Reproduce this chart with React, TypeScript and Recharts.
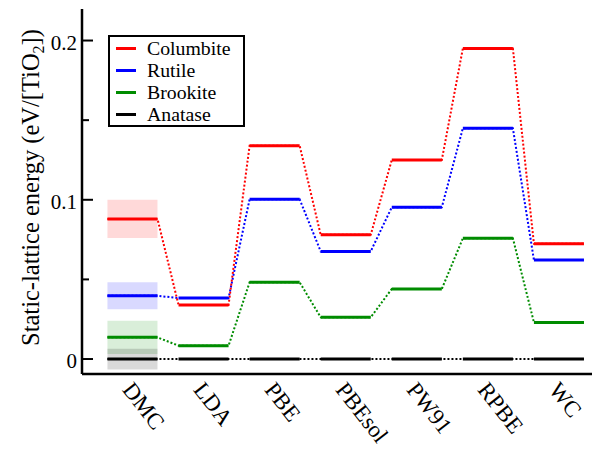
import React from 'react';
import { LineChart, Line, XAxis, YAxis, ReferenceArea, Legend } from 'recharts';

// functionals along the x axis
const categories = ['DMC', 'LDA', 'PBE', 'PBEsol', 'PW91', 'RPBE', 'WC'];

// static-lattice energies relative to anatase (eV / TiO2)
const columbite = [0.088, 0.034, 0.134, 0.078, 0.125, 0.195, 0.0724];
const rutile = [0.0397, 0.0383, 0.1003, 0.0676, 0.0953, 0.1449, 0.0622];
const brookite = [0.0136, 0.0084, 0.0482, 0.0262, 0.044, 0.0758, 0.023];
const anatase = [0, 0, 0, 0, 0, 0, 0];

// DMC error bars (half widths)
const dmcErrors = { columbite: 0.012, rutile: 0.0085, brookite: 0.0104, anatase: 0.0065 };

const yTicks = [0, 0.05, 0.1, 0.15, 0.2];
const yLabels: Record<string, string> = { '0': '0', '0.1': '0.1', '0.2': '0.2' };

const FONT = "'Liberation Serif', 'Times New Roman', serif";
const HALF = 0.352; // half length of a level, in category units
const X_DOMAIN: [number, number] = [-0.71, 6.465];
const Y_DOMAIN: [number, number] = [-0.0094, 0.2198];

const phases = [
    { name: 'Columbite', color: '#ff0000', values: columbite, err: dmcErrors.columbite },
    { name: 'Rutile', color: '#0000ff', values: rutile, err: dmcErrors.rutile },
    { name: 'Brookite', color: '#008c00', values: brookite, err: dmcErrors.brookite },
    { name: 'Anatase', color: '#000000', values: anatase, err: dmcErrors.anatase },
];

// level segments, broken by nulls
const levels = (vals: number[]) =>
    vals.flatMap((v, i) => [
        { x: i - HALF, y: v },
        { x: i + HALF, y: v },
        { x: i + 0.5, y: null },
    ]);

// the whole staircase, drawn dotted underneath
const staircase = (vals: number[]) =>
    vals.flatMap((v, i) => [
        { x: i - HALF, y: v },
        { x: i + HALF, y: v },
    ]);

const YTick = ({ x, y, payload }: any) => {
    const label = yLabels[String(payload.value)];
    const axisX = x + 5;
    return (
        <g>
            <line x1={axisX} x2={axisX + (label ? 11 : 7)} y1={y} y2={y} stroke="#000" strokeWidth={2} />
            {label && (
                <text x={x} y={y + 9} textAnchor="end" fontSize={21} fontFamily={FONT} fill="#000">
                    {label}
                </text>
            )}
        </g>
    );
};

const XTick = ({ x, y, payload }: any) => {
    const ax = x - 11;
    const ay = y + 8;
    return (
        <text x={ax} y={ay} transform={`rotate(52, ${ax}, ${ay})`} fontSize={23} fontFamily={FONT} fill="#000">
            {categories[payload.value]}
        </text>
    );
};

const YLabel = ({ viewBox }: any) => {
    const cx = 39;
    const cy = viewBox.y + viewBox.height / 2 - 4;
    return (
        <text x={cx} y={cy} transform={`rotate(-90, ${cx}, ${cy})`} textAnchor="middle" fontSize={24.5} fontFamily={FONT} fill="#000">
            Static-lattice energy (eV/[TiO<tspan dy={5} fontSize={16}>2</tspan><tspan dy={-5}>])</tspan>
        </text>
    );
};

const LegendBox = () => (
    <div
        style={{
            border: '2px solid #000',
            background: '#fff',
            padding: '0 6px',
            width: 121,
            fontFamily: FONT,
            fontSize: 19.8,
            lineHeight: '22px',
            color: '#000',
        }}
    >
        {phases.map((p) => (
            <div key={p.name} style={{ display: 'flex', alignItems: 'center', height: 22 }}>
                <span style={{ display: 'inline-block', width: 20, height: 3, background: p.color, marginRight: 11 }} />
                <span>{p.name}</span>
            </div>
        ))}
    </div>
);

export default function App() {
    return (
        <div style={{ position: 'absolute', left: 0, top: 0, width: 592, height: 454, overflow: 'hidden', background: '#fff' }}>
            <LineChart width={592} height={454} margin={{ top: 9, right: 0, bottom: 0, left: 0 }}>
                <XAxis
                    xAxisId="top"
                    orientation="top"
                    type="number"
                    dataKey="x"
                    domain={X_DOMAIN}
                    allowDataOverflow
                    height={0}
                    tick={false}
                    tickLine={false}
                    axisLine={{ stroke: '#000', strokeWidth: 2.5 }}
                />
                <XAxis
                    type="number"
                    dataKey="x"
                    domain={X_DOMAIN}
                    allowDataOverflow
                    ticks={categories.map((_, i) => i)}
                    interval={0}
                    height={80}
                    tickLine={false}
                    tick={<XTick />}
                    axisLine={{ stroke: '#000', strokeWidth: 2.5 }}
                />
                <YAxis
                    type="number"
                    domain={Y_DOMAIN}
                    allowDataOverflow
                    ticks={yTicks}
                    interval={0}
                    width={82}
                    tickSize={0}
                    tickMargin={5}
                    tickLine={false}
                    tick={<YTick />}
                    axisLine={{ stroke: '#000', strokeWidth: 2.5 }}
                    label={<YLabel />}
                />
                {phases.map((p) => (
                    <ReferenceArea
                        key={'band-' + p.name}
                        x1={-HALF}
                        x2={HALF}
                        y1={p.values[0] - p.err}
                        y2={p.values[0] + p.err}
                        fill={p.color}
                        fillOpacity={0.15}
                        stroke="none"
                    />
                ))}
                {[...phases].reverse().map((p) => (
                    <Line
                        key={'dots-' + p.name}
                        data={staircase(p.values)}
                        dataKey="y"
                        type="linear"
                        stroke={p.color}
                        strokeWidth={2}
                        strokeDasharray="2 2"
                        dot={false}
                        activeDot={false}
                        isAnimationActive={false}
                        legendType="none"
                    />
                ))}
                {[...phases].reverse().map((p) => (
                    <Line
                        key={'level-' + p.name}
                        data={levels(p.values)}
                        dataKey="y"
                        name={p.name}
                        type="linear"
                        stroke={p.color}
                        strokeWidth={3}
                        dot={false}
                        activeDot={false}
                        isAnimationActive={false}
                    />
                ))}
                <Legend
                    content={<LegendBox />}
                    layout="vertical"
                    align="center"
                    verticalAlign="middle"
                    wrapperStyle={{ left: 108, top: 35, width: 'auto', right: 'auto', bottom: 'auto' }}
                />
            </LineChart>
        </div>
    );
}
